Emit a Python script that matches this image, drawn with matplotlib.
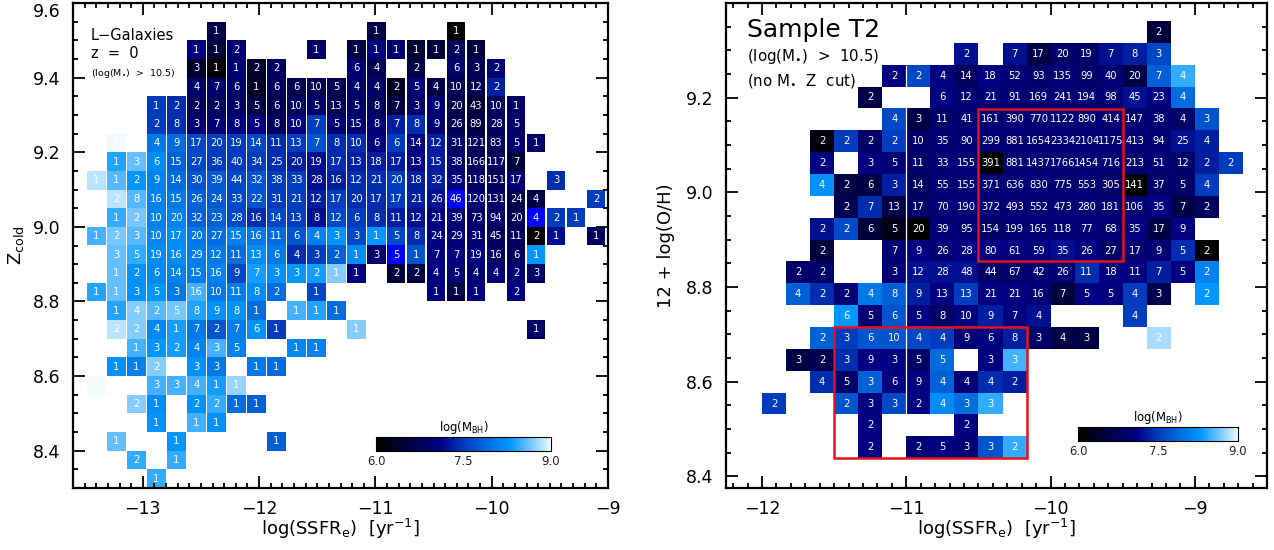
import numpy as np
import matplotlib
matplotlib.use("Agg")
import matplotlib.pyplot as plt
from matplotlib.colors import LinearSegmentedColormap, Normalize
from matplotlib.patches import Rectangle
from matplotlib.ticker import MultipleLocator

plt.rcParams['font.family'] = ['DejaVu Sans']
plt.rcParams['mathtext.default'] = 'regular'

# A few cells in the picture are pure blue, a colour the colour bar does not contain.
OFF = 9.5

# each row: (bin index along SSFR, galaxy count, log black-hole mass)
L0 = [(6,1,6.6),(14,1,6.6),(18,1,6.0)]
L1 = [(5,1,7.1),(6,1,6.5),(7,2,7.0),(11,1,6.9),(13,1,6.6),(14,1,7.1),(15,1,7.0),(16,1,6.4),(17,1,6.5),(18,2,6.8),(19,1,6.5)]
L2 = [(5,3,6.4),(6,1,6.0),(7,1,7.0),(8,2,6.4),(9,2,6.8),(13,6,7.0),(14,4,6.7),(16,2,6.6),(18,6,6.9),(19,3,6.8),(20,2,7.0)]
L3 = [(5,4,6.9),(6,7,6.9),(7,6,6.9),(8,1,6.3),(9,6,6.8),(10,6,6.7),(11,10,6.7),(12,5,6.7),(13,4,6.9),(14,4,6.9),(15,2,6.3),(16,5,7.0),(17,4,6.6),(18,10,6.7),(19,12,6.7),(20,2,7.3)]
L4 = [(3,1,7.5),(4,2,7.4),(5,2,6.8),(6,2,6.8),(7,3,6.9),(8,5,6.6),(9,6,6.7),(10,10,6.8),(11,5,6.9),(12,13,6.7),(13,5,6.9),(14,8,6.8),(15,7,6.6),(16,3,6.9),(17,9,7.0),(18,20,6.6),(19,43,6.5),(20,10,6.8),(21,1,6.9)]
L5 = [(3,2,7.5),(4,8,7.4),(5,3,7.0),(6,7,7.0),(7,8,7.1),(8,5,7.1),(9,8,6.8),(10,10,7.1),(11,7,7.5),(12,5,7.0),(13,15,7.0),(14,8,7.0),(15,7,7.3),(16,8,7.4),(17,9,7.0),(18,26,6.7),(19,89,6.6),(20,28,6.8),(21,5,6.9)]
L6 = [(1,1,9.0),(3,4,8.0),(4,9,7.9),(5,17,7.6),(6,20,7.5),(7,19,7.5),(8,14,7.6),(9,11,7.4),(10,13,7.5),(11,7,7.7),(12,8,7.4),(13,10,7.4),(14,6,7.1),(15,6,7.5),(16,14,7.1),(17,12,7.3),(18,31,6.9),(19,121,6.8),(20,83,6.8),(21,5,7.0),(22,1,6.9)]
L7 = [(1,1,8.4),(2,3,8.6),(3,6,8.2),(4,15,7.8),(5,27,7.6),(6,36,7.5),(7,40,7.5),(8,34,7.5),(9,25,7.4),(10,20,7.3),(11,19,7.2),(12,17,7.4),(13,13,7.3),(14,18,7.3),(15,17,7.3),(16,13,7.1),(17,15,7.3),(18,38,7.0),(19,166,6.8),(20,117,6.8),(21,7,6.5)]
L8 = [(0,1,8.85),(1,1,8.55),(2,2,8.3),(3,9,8.1),(4,14,7.9),(5,30,7.7),(6,39,7.75),(7,44,7.6),(8,32,7.7),(9,38,7.5),(10,33,7.5),(11,28,7.2),(12,16,7.3),(13,12,7.4),(14,21,7.4),(15,20,7.5),(16,18,7.3),(17,32,7.3),(18,35,7.1),(19,118,6.9),(20,151,6.8),(21,17,7.0),(23,3,7.4)]
L9 = [(1,2,8.85),(2,8,8.55),(3,16,8.1),(4,15,8.0),(5,26,7.8),(6,24,7.75),(7,33,7.6),(8,22,7.7),(9,31,7.5),(10,21,7.5),(11,12,7.3),(12,17,7.5),(13,20,7.4),(14,17,7.4),(15,17,7.5),(16,21,7.3),(17,26,7.2),(18,46,OFF),(19,120,7.0),(20,131,6.9),(21,24,6.7),(22,4,6.6),(25,2,7.5)]
L10 = [(1,1,8.45),(2,2,8.65),(3,10,8.1),(4,20,8.1),(5,32,7.8),(6,23,7.8),(7,28,7.6),(8,16,7.4),(9,14,7.6),(10,13,7.5),(11,8,7.2),(12,12,7.6),(13,6,7.5),(14,8,7.4),(15,11,7.3),(16,12,7.2),(17,21,7.1),(18,39,7.0),(19,73,6.9),(20,94,6.9),(21,20,6.7),(22,4,OFF),(23,2,7.5),(24,1,7.5)]
L11 = [(0,1,8.5),(1,2,8.65),(2,3,8.55),(3,10,8.15),(4,17,8.2),(5,20,8.0),(6,27,7.9),(7,15,8.1),(8,16,8.0),(9,11,7.9),(10,6,7.7),(11,4,8.1),(12,3,8.25),(13,3,7.6),(14,1,8.3),(15,5,7.6),(16,8,7.4),(17,24,7.1),(18,29,7.0),(19,31,7.0),(20,45,6.8),(21,11,6.8),(22,2,6.0),(23,1,7.2),(25,1,6.8)]
L12 = [(1,3,8.6),(2,5,8.45),(3,19,8.2),(4,16,8.2),(5,29,8.05),(6,12,8.0),(7,11,7.9),(8,13,8.2),(9,6,8.0),(10,4,7.4),(11,3,7.5),(12,2,7.8),(13,1,8.2),(14,3,6.9),(15,5,OFF),(16,1,7.7),(17,7,7.1),(18,7,7.1),(19,19,7.1),(20,16,6.8),(21,6,6.8),(22,1,8.3)]
L13 = [(1,1,8.6),(2,2,8.25),(3,6,8.15),(4,14,8.1),(5,15,8.05),(6,16,8.1),(7,9,7.6),(8,7,8.35),(9,3,8.25),(10,3,8.3),(11,2,8.35),(12,1,8.7),(13,1,7.1),(15,2,6.5),(16,2,6.6),(17,4,7.1),(18,5,7.0),(19,4,7.0),(20,4,7.0),(21,2,7.0),(22,3,6.9)]
L14 = [(0,1,8.4),(1,1,8.6),(2,3,8.25),(3,5,8.3),(4,3,8.0),(5,16,8.5),(6,10,8.0),(7,11,8.05),(8,8,8.2),(9,2,7.9),(11,1,7.6),(17,1,7.1),(18,1,6.6),(19,1,7.1),(21,2,7.1)]
L15 = [(1,1,8.4),(2,4,8.7),(3,2,8.55),(4,5,8.65),(5,8,8.4),(6,9,8.25),(7,8,8.25),(8,1,7.9),(10,1,8.5),(11,1,8.4),(12,1,7.9)]
L16 = [(1,2,8.85),(2,2,8.7),(3,4,8.15),(4,1,8.35),(5,7,8.0),(6,2,7.7),(7,7,8.05),(8,6,8.25),(9,1,7.5),(13,1,8.7),(22,1,6.9)]
L17 = [(2,1,8.5),(3,3,8.3),(4,2,8.35),(5,4,8.1),(6,3,8.5),(7,5,8.1),(10,1,8.15),(11,1,8.1)]
L18 = [(1,1,8.25),(2,1,8.1),(3,2,8.7),(5,3,8.25),(6,3,8.0),(8,1,8.0),(9,1,7.9)]
L19 = [(0,1,9.0),(3,3,8.5),(4,3,8.5),(5,4,8.5),(6,1,8.35),(7,1,8.75)]
L20 = [(2,2,8.7),(3,1,8.2),(5,2,8.25),(6,2,8.45),(7,1,7.9),(8,1,7.8)]
L21 = [(3,1,8.25),(5,1,8.5),(6,1,8.25)]
L22 = [(1,1,8.6),(4,1,8.3),(9,1,7.8)]
L23 = [(2,2,8.45),(4,1,8.45)]
L24 = [(3,1,8.45)]
LEFT_ROWS = [L0,L1,L2,L3,L4,L5,L6,L7,L8,L9,L10,L11,L12,L13,L14,L15,L16,L17,L18,L19,L20,L21,L22,L23,L24]

R0 = [(16,2,6.5)]
R1 = [(8,2,7.2),(10,7,7.2),(11,17,6.6),(12,20,6.9),(13,19,6.9),(14,7,7.2),(15,8,7.3),(16,3,7.6)]
R2 = [(5,2,7.1),(6,2,7.6),(7,4,7.1),(8,14,6.8),(9,18,7.1),(10,52,7.0),(11,93,6.9),(12,135,7.0),(13,99,6.9),(14,40,7.0),(15,20,6.6),(16,7,7.8),(17,4,8.45)]
R3 = [(4,2,6.6),(7,6,7.1),(8,12,7.0),(9,21,7.0),(10,91,7.0),(11,169,7.0),(12,241,7.0),(13,194,7.0),(14,98,7.0),(15,45,7.2),(16,23,7.1),(17,4,7.9)]
R4 = [(5,4,7.6),(6,3,6.6),(7,11,6.9),(8,41,7.0),(9,161,7.0),(10,390,7.0),(11,770,7.0),(12,1122,7.0),(13,890,7.0),(14,414,7.0),(15,147,7.0),(16,38,7.0),(17,4,6.9),(18,3,7.7)]
R5 = [(2,2,6.1),(3,2,7.5),(4,2,6.9),(5,2,7.5),(6,10,6.9),(7,35,7.0),(8,90,7.0),(9,299,7.0),(10,881,7.0),(11,1654,7.0),(12,2334,7.0),(13,2104,7.0),(14,1175,7.0),(15,413,7.0),(16,94,7.0),(17,25,7.2),(18,4,7.3)]
R6 = [(2,2,7.1),(4,3,7.1),(5,5,7.0),(6,11,6.9),(7,33,7.0),(8,155,7.0),(9,391,6.0),(10,881,7.0),(11,1437,7.0),(12,1766,7.0),(13,1454,7.0),(14,716,7.0),(15,213,7.0),(16,51,7.0),(17,12,6.9),(18,2,7.3),(19,2,7.5)]
R7 = [(2,4,8.25),(3,2,6.6),(4,6,6.6),(5,3,7.3),(6,14,6.8),(7,55,7.0),(8,155,7.0),(9,371,7.0),(10,636,7.0),(11,830,7.0),(12,775,7.0),(13,553,7.0),(14,305,6.9),(15,141,6.0),(16,37,6.9),(17,5,6.9),(18,4,7.5)]
R8 = [(3,2,6.7),(4,7,7.4),(5,13,6.6),(6,17,6.9),(7,70,7.0),(8,190,7.0),(9,372,7.0),(10,493,7.0),(11,552,7.0),(12,473,7.0),(13,280,7.0),(14,181,7.0),(15,106,7.0),(16,35,7.1),(17,7,6.6),(18,2,6.8)]
R9 = [(2,2,7.2),(3,2,7.6),(4,6,6.5),(5,5,6.2),(6,20,6.0),(7,39,7.0),(8,95,7.0),(9,154,6.9),(10,199,7.0),(11,165,7.0),(12,118,7.0),(13,77,7.0),(14,68,7.0),(15,35,7.1),(16,17,6.6),(17,9,7.1)]
R10 = [(2,2,6.5),(5,7,7.0),(6,9,7.1),(7,26,7.0),(8,28,7.1),(9,80,7.1),(10,61,7.1),(11,59,7.1),(12,35,7.2),(13,26,7.1),(14,27,6.9),(15,17,7.0),(16,9,7.0),(17,5,7.4),(18,2,6.0)]
R11 = [(1,2,6.9),(2,2,6.9),(5,3,7.0),(6,12,7.2),(7,28,7.2),(8,48,7.2),(9,44,6.9),(10,67,6.9),(11,42,7.0),(12,26,7.0),(13,11,7.4),(14,18,7.1),(15,11,7.1),(16,7,7.3),(17,5,7.1),(18,2,8.1)]
R12 = [(1,4,7.8),(2,2,7.4),(3,2,7.0),(4,4,8.0),(5,8,7.8),(6,9,7.3),(7,13,7.1),(8,13,7.5),(9,21,7.1),(10,21,7.1),(11,16,7.0),(12,7,6.5),(13,5,7.1),(14,5,7.1),(15,4,7.5),(16,3,6.7),(18,2,8.3)]
R13 = [(3,6,8.3),(4,5,7.0),(5,6,7.7),(6,5,7.1),(7,8,6.9),(8,10,7.1),(9,9,7.3),(10,7,7.1),(11,4,7.2),(15,4,7.5)]
R14 = [(2,2,7.8),(3,3,7.5),(4,6,7.7),(5,10,7.7),(6,4,7.6),(7,4,7.5),(8,9,7.0),(9,6,7.1),(10,8,7.3),(11,3,6.9),(12,4,6.6),(13,3,6.6),(16,2,8.8)]
R15 = [(1,3,6.6),(2,2,6.7),(3,3,7.4),(4,9,7.1),(5,3,7.1),(6,5,6.9),(7,5,7.9),(9,3,7.1),(10,3,8.5)]
R16 = [(2,4,7.4),(3,5,6.9),(4,3,7.8),(5,6,7.1),(6,9,7.1),(7,4,7.8),(8,4,7.0),(9,4,7.4),(10,2,7.3)]
R17 = [(0,2,7.5),(3,2,7.7),(4,3,7.1),(5,3,7.6),(6,2,7.1),(7,4,8.2),(8,3,7.9),(9,3,8.45)]
R18 = [(4,2,7.1),(8,2,7.1)]
R19 = [(4,2,7.1),(6,2,7.0),(7,5,7.1),(8,3,7.0),(9,3,7.7),(10,2,8.45)]
RIGHT_ROWS = [R0,R1,R2,R3,R4,R5,R6,R7,R8,R9,R10,R11,R12,R13,R14,R15,R16,R17,R18,R19]

LEFT_XTICKS = [-13, -12, -11, -10, -9]
LEFT_YTICKS = [8.4, 8.6, 8.8, 9.0, 9.2, 9.4, 9.6]
RIGHT_XTICKS = [-12, -11, -10, -9]
RIGHT_YTICKS = [8.4, 8.6, 8.8, 9.0, 9.2]
CBAR_TICKS = [6.0, 7.5, 9.0]

W, H = 1274, 550
fig = plt.figure(figsize=(W/100, H/100), dpi=100, facecolor='white')


def px_axes(x0, y0, x1, y1):
    return fig.add_axes([x0/W, 1-y1/H, (x1-x0)/W, (y1-y0)/H])


stops = [(6.0, (0, 0, 0)), (6.6, (0, 0, 70)), (7.1, (0, 0, 128)), (7.5, (0, 60, 190)),
         (8.0, (0, 120, 230)), (8.3, (0, 150, 255)), (8.6, (100, 190, 255)),
         (8.9, (200, 235, 255)), (9.0, (240, 250, 255))]
cmap = LinearSegmentedColormap.from_list(
    'mbh', [((v-6)/3, tuple(c/255 for c in col)) for v, col in stops], N=512)
cmap.set_over((0, 0, 1))
norm = Normalize(6, 9)


def draw_cells(ax, rows, x0, dx, y_top, dy, gap, fs):
    for r, row in enumerate(rows):
        bins = np.array([c[0] for c in row])
        counts = [c[1] for c in row]
        mbh = np.array([c[2] for c in row])
        left = x0 + bins*dx
        bottom = y_top - (r+1)*dy
        ax.bar(left + gap/2, dy, width=dx-gap, bottom=bottom, align='edge',
               color=cmap(norm(mbh)), linewidth=0, antialiased=False, zorder=1)
        for xv, n in zip(left, counts):
            ax.text(xv + dx/2, bottom + dy/2, str(n), color='white', fontsize=fs,
                    ha='center', va='center', zorder=3)


def style(ax, xt, yt, xlim, ylim):
    ax.set_xlim(*xlim)
    ax.set_ylim(*ylim)
    ax.set_xticks(xt)
    ax.set_yticks(yt)
    ax.set_yticklabels([f'{v:.1f}' for v in yt])
    ax.xaxis.set_minor_locator(MultipleLocator(0.1))
    ax.yaxis.set_minor_locator(MultipleLocator(0.05))
    ax.tick_params(which='major', direction='in', length=8.5, width=1.3, top=True,
                   right=True, labelsize=12.5, pad=9, zorder=5)
    ax.tick_params(which='minor', direction='in', length=3.8, width=1.3, top=True,
                   right=True)
    for s in ax.spines.values():
        s.set_linewidth(1.6)
        s.set_zorder(6)


def colorbar(x0, y0, x1, y1, title_y, fs):
    cax = px_axes(x0, y0, x1, y1)
    cax.imshow(np.linspace(6, 9, 300)[None, :], cmap=cmap, norm=norm, aspect='auto',
               extent=[6, 9, 0, 1], interpolation='bilinear')
    cax.set_yticks([])
    cax.set_xticks(CBAR_TICKS)
    cax.set_xticklabels([f'{v:.1f}' for v in CBAR_TICKS], fontsize=fs)
    cax.tick_params(axis='x', length=0, pad=3, colors='#222222')
    for s in cax.spines.values():
        s.set_linewidth(0.8)
    fig.text((x0+x1)/2/W, 1-title_y/H, r'log(M$_{BH}$)', fontsize=fs, ha='center', va='center')


# Left panel
ax1 = px_axes(73, 3, 608, 488)
style(ax1, LEFT_XTICKS, LEFT_YTICKS, (-13.6, -9.0), (8.3, 9.6))
ax1.get_yticklabels()[-1].set_va('top')
draw_cells(ax1, LEFT_ROWS, -13.484, 0.1718, 9.55, 0.05, 0.012, 7.2)
ax1.set_xlabel(r'log(SSFR$_{e}$)  [yr$^{-1}$]', fontsize=13, labelpad=-1.5)
ax1.set_ylabel(r'Z$_{cold}$', fontsize=13, labelpad=5)
fig.text(91/W, 1-35/H, 'L−Galaxies', fontsize=10.5, va='center', ha='left')
fig.text(91/W, 1-54/H, 'z  =  0', fontsize=10.5, va='center', ha='left')
fig.text(91/W, 1-74/H, r'(log(M$_{\bullet}$)  >  10.5)', fontsize=6.8, va='center', ha='left')
colorbar(376, 437, 551, 451, 427, 8.4)

# Right panel
ax2 = px_axes(726, 3, 1267, 488)
style(ax2, RIGHT_XTICKS, RIGHT_YTICKS, (-12.25, -8.5), (8.375, 9.4))
draw_cells(ax2, RIGHT_ROWS, -12.0, 1/6, 9.362, 0.0462, 0.0, 7.2)
ax2.axvline(-11, ymin=0.15, ymax=0.87, color='white', lw=0.9, zorder=2)
ax2.add_patch(Rectangle((-10.5, 8.854), 1.0, 0.323, fill=False, ec='#e8101a', lw=1.8, zorder=4))
ax2.add_patch(Rectangle((-11.5, 8.438), 1.333, 0.277, fill=False, ec='#e8101a', lw=1.8, zorder=4))
ax2.set_xlabel(r'log(SSFR$_{e}$)  [yr$^{-1}$]', fontsize=13, labelpad=-1.5)
ax2.set_ylabel('12 + log(O/H)', fontsize=13, labelpad=8)
fig.text(747/W, 1-30/H, 'Sample T2', fontsize=18, va='center', ha='left')
fig.text(747/W, 1-57/H, r'(log(M$_{\bullet}$)  >  10.5)', fontsize=10.8, va='center', ha='left')
fig.text(747/W, 1-81/H, r'(no M$_{\bullet}$  Z  cut)', fontsize=10.8, va='center', ha='left')
colorbar(1078, 427, 1238, 441, 418, 8.4)

fig.savefig('out.png', dpi=100)
